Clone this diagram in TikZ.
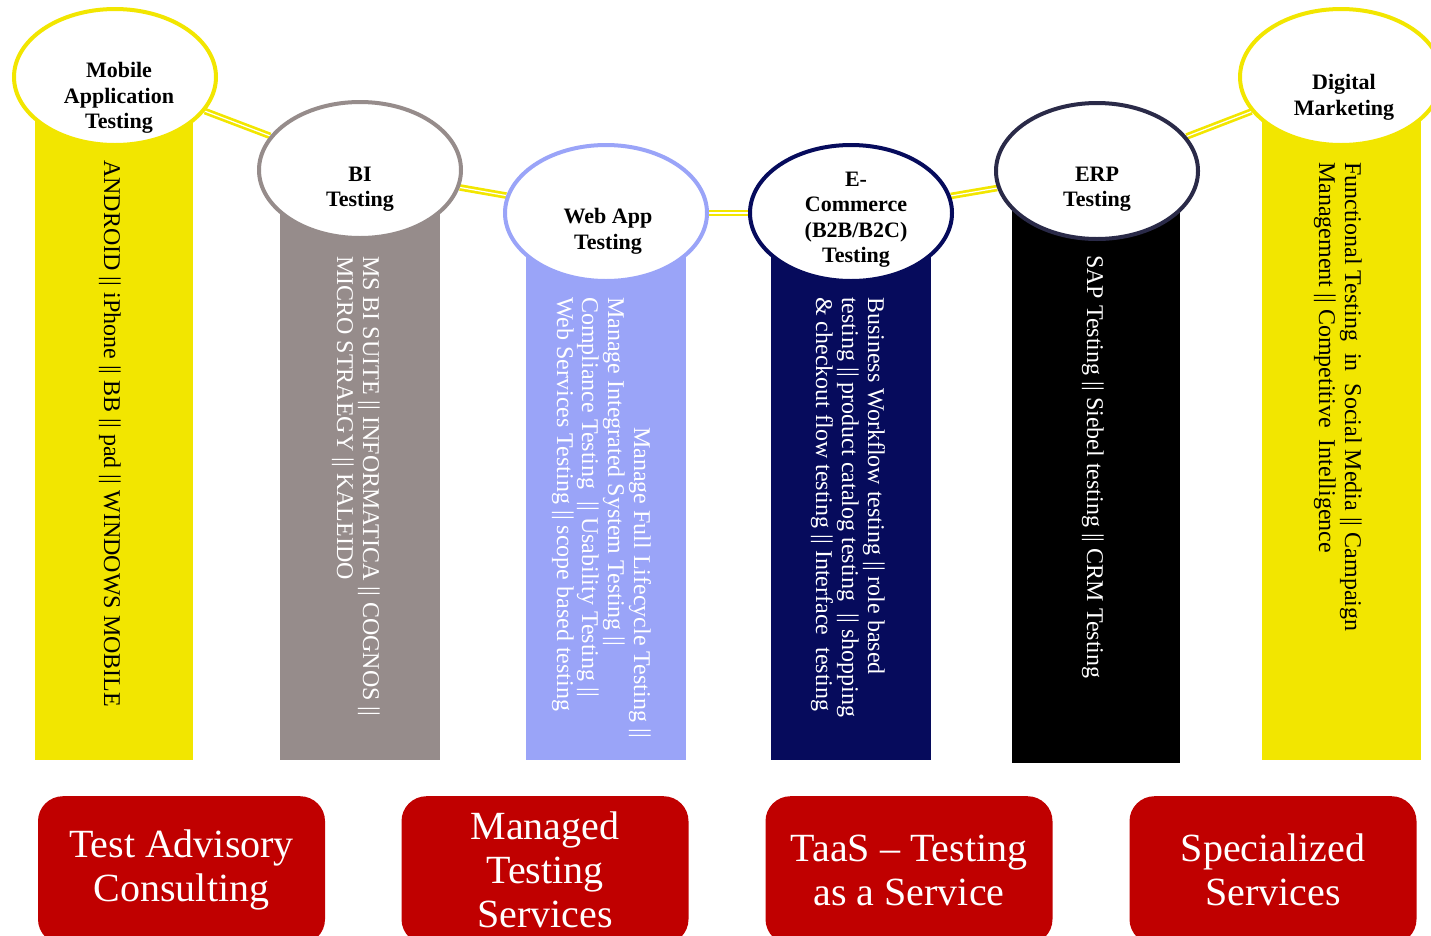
\documentclass[tikz,border=0pt]{standalone}
\usepackage{fontspec}
\setmainfont{Liberation Serif}
\usetikzlibrary{shapes.geometric,backgrounds}
\definecolor{yel}{HTML}{F2E600}
\definecolor{grayc}{HTML}{968C8B}
\definecolor{lblue}{HTML}{9AA4F8}
\definecolor{navy}{HTML}{060B5C}
\definecolor{erpc}{HTML}{2A2A48}
\definecolor{redc}{HTML}{C00000}
\begin{document}
\begin{tikzpicture}[x=1pt,y=-1pt,
  ell/.style={ellipse, draw=#1, line width=4pt, fill=white, minimum width=202pt, minimum height=136pt, inner sep=0pt},
  elab/.style={align=center, font=\fontsize{22}{25.5}\selectfont\bfseries, inner sep=0pt},
  vtxt/.style={rotate=-90, anchor=base west, inner sep=0pt, font=\fontsize{24}{26}\selectfont, text=#1},
  link/.style={draw=yel, line width=2.7pt, double=white, double distance=1.2pt},
  svc/.style={rounded corners=25pt, fill=redc, minimum width=287pt, minimum height=148pt, anchor=north, text=white, align=center, font=\fontsize{40}{44}\selectfont, inner sep=0pt}]
\useasboundingbox (0,0) rectangle (1431,935);
\clip (0,0) rectangle (1431,935);
% columns
\fill[yel]   (35,100)   rectangle (193,760);
\fill[grayc] (280,190)  rectangle (440,760);
\fill[lblue] (526,230)  rectangle (686,760);
\fill[navy]  (771,230)  rectangle (931,760);
\fill[black] (1012,190) rectangle (1180,763);
\fill[yel]   (1262,100) rectangle (1421,760);
% ellipses
\node[ell=yel]   (mob) at (115,77)  {};
\node[ell=grayc] (bi)  at (360,170) {};
\node[ell=lblue] (web) at (606,213) {};
\node[ell=navy]  (ecom) at (851,213) {};
\node[ell=erpc]  (erp) at (1097,171) {};
\node[ell=yel]   (dig) at (1341,77) {};
% connectors
\begin{scope}[on background layer]
\draw[link] (mob) -- (bi);
\draw[link] (bi) -- (web);
\draw[link] (web) -- (ecom);
\draw[link] (ecom) -- (erp);
\draw[link] (erp) -- (dig);
\end{scope}
% ellipse labels
\node[elab] (lmob) at (119,98) {Mobile\\Application\\Testing};
\node[elab] (lbi) at (360,189) {BI\\Testing};
\node[elab] (lweb) at (608,231.5) {Web App\\Testing};
\node[elab] (lecom) at (856,219.5) {E-\\Commerce\\(B2B/B2C)\\Testing};
\node[elab] (lerp) at (1097,189) {ERP\\Testing};
\node[elab] (ldig) at (1344,97.5) {Digital\\Marketing};
% column texts
\node[vtxt=black] (t1) at (104,160) {ANDROID || iPhone || BB || pad || WINDOWS MOBILE};
\node[vtxt=white] (t2a) at (363,256) {MS BI SUITE || INFORMATICA || COGNOS ||};
\node[vtxt=white] (t2b) at (337,256) {MICRO STRAEGY || KALEIDO};
\node[vtxt=white, anchor=base east] (t3a) at (634,738) {Manage Full Lifecycle Testing ||};
\node[vtxt=white] (t3b) at (608,297) {Manage Integrated System Testing ||};
\node[vtxt=white] (t3c) at (582,297) {Compliance Testing \ || Usability Testing ||};
\node[vtxt=white] (t3d) at (557,297) {Web Services Testing || scope based testing};
\node[vtxt=white] (t4a) at (868,297) {Business Workflow testing || role based};
\node[vtxt=white] (t4b) at (842,297) {testing || product catalog testing \ || shopping};
\node[vtxt=white] (t4c) at (816,297) {\& checkout flow testing || Interface \ testing};
\node[vtxt=white] (t5) at (1087,255) {SAP Testing || Siebel testing || CRM Testing};
\node[vtxt=black] (t6a) at (1345,162) {Functional Testing \ in \ Social Media || Campaign};
\node[vtxt=black] (t6b) at (1319,162) {Management || Competitive \ Intelligence};
% service boxes
\node[svc] (s1) at (181.5,796) {Test Advisory\\Consulting};
\node[svc] (s2) at (545,796) {Managed\\Testing\\Services};
\node[svc] (s3) at (909,796) {TaaS -- Testing\\as a Service};
\node[svc] (s4) at (1273,796) {Specialized\\Services};
\end{tikzpicture}
\end{document}
